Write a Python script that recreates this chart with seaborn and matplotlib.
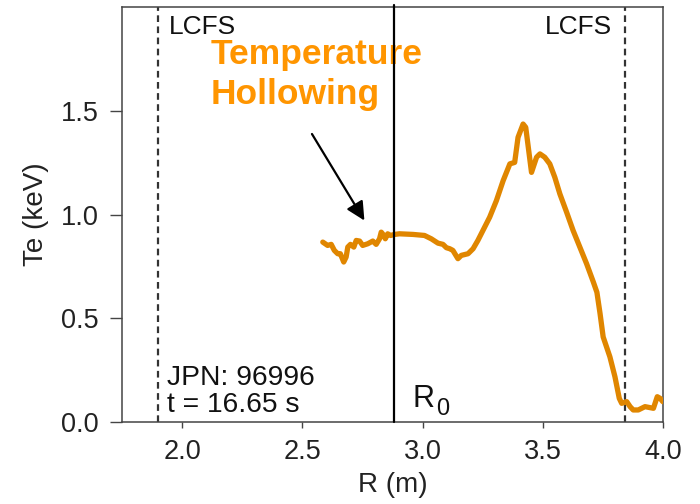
import matplotlib
matplotlib.use("Agg")
import matplotlib.pyplot as plt
import numpy as np
import pandas as pd
import seaborn as sns

# Electron temperature profile, JPN 96996 at t = 16.65 s
R_m = [2.585, 2.605, 2.620, 2.633, 2.647, 2.658, 2.672, 2.682, 2.689, 2.700,
       2.714, 2.724, 2.738, 2.751, 2.772, 2.793, 2.807, 2.821, 2.828, 2.839,
       2.845, 2.855, 2.867, 2.883, 2.904, 2.960, 3.008, 3.036, 3.064, 3.085,
       3.099, 3.113, 3.126, 3.147, 3.161, 3.189, 3.210, 3.230, 3.251, 3.272,
       3.279, 3.307, 3.335, 3.363, 3.383, 3.397, 3.418, 3.429, 3.453, 3.474,
       3.488, 3.508, 3.529, 3.550, 3.571, 3.599, 3.626, 3.654, 3.682, 3.710,
       3.725, 3.738, 3.751, 3.779, 3.800, 3.818, 3.828, 3.849, 3.863, 3.876,
       3.897, 3.925, 3.960, 3.976, 3.988, 3.999]
Te_keV = [0.867, 0.851, 0.856, 0.827, 0.811, 0.811, 0.771, 0.795, 0.843, 0.856,
          0.843, 0.875, 0.872, 0.851, 0.859, 0.872, 0.856, 0.883, 0.915, 0.899,
          0.883, 0.907, 0.899, 0.904, 0.907, 0.904, 0.899, 0.883, 0.862, 0.856,
          0.840, 0.835, 0.827, 0.787, 0.803, 0.811, 0.835, 0.875, 0.923, 0.971,
          0.987, 1.067, 1.163, 1.244, 1.251, 1.372, 1.436, 1.420, 1.203, 1.276,
          1.292, 1.276, 1.244, 1.179, 1.099, 1.011, 0.923, 0.843, 0.763, 0.675,
          0.625, 0.523, 0.410, 0.314, 0.218, 0.114, 0.090, 0.098, 0.074, 0.058,
          0.058, 0.074, 0.066, 0.122, 0.114, 0.098]

lcfs_R = [1.90, 3.84]
R0 = 2.883
x_ticks = [2.0, 2.5, 3.0, 3.5, 4.0]
y_ticks = [0.0, 0.5, 1.0, 1.5]

sns.set_theme(style="ticks")
plt.rcParams["font.family"] = ["Liberation Sans", "DejaVu Sans"]

df = pd.DataFrame({"R": R_m, "Te": Te_keV})

fig = plt.figure(figsize=(7.0, 5.04), dpi=100)
ax = fig.add_axes([0.1743, 0.1627, 0.7729, 0.8234])

sns.lineplot(data=df, x="R", y="Te", ax=ax, sort=False, estimator=None,
             color="#E08600", lw=3.8, solid_joinstyle="round",
             solid_capstyle="round", zorder=3)

for r in lcfs_R:
    ax.axvline(r, color="#333333", lw=1.6, ls=(0, (3.0, 2.0)), zorder=2)
ax.axvline(R0, color="black", lw=1.6, ymax=1.006, clip_on=False, zorder=4)

ax.set_xlim(1.75, 4.0)
ax.set_ylim(0.0, 2.0)
ax.set_xticks(x_ticks)
ax.set_yticks(y_ticks)
ax.set_xticklabels([f"{v:.1f}" for v in x_ticks])
ax.set_yticklabels([f"{v:.1f}" for v in y_ticks])

for s in ax.spines.values():
    s.set_visible(True)
    s.set_color("#444444")
    s.set_linewidth(1.1)

ax.tick_params(axis="x", length=4, width=1.0, color="#444444", pad=8,
               labelsize=19.5, labelcolor="#222222")
ax.tick_params(axis="y", length=8.5, width=1.0, color="#444444", pad=8,
               labelsize=19.5, labelcolor="#222222")

ax.set_xlabel("R (m)", fontsize=20, color="#222222", labelpad=5)
ax.set_ylabel("Te (keV)", fontsize=20, color="#222222", labelpad=9)

# Labels and annotations
ax.text(1.946, 1.96, "LCFS", fontsize=19, color="#111111", va="top", ha="left")
ax.text(3.508, 1.96, "LCFS", fontsize=19, color="#111111", va="top", ha="left")

orange_txt = "#FF9500"
ax.text(2.120, 1.726, "Temperature", fontsize=25.5, fontweight="bold",
        color=orange_txt, va="baseline", ha="left", zorder=1)
ax.text(2.120, 1.534, "Hollowing", fontsize=25.5, fontweight="bold",
        color=orange_txt, va="baseline", ha="left", zorder=1)

ax.annotate("", xy=(2.758, 0.971), xytext=(2.540, 1.388),
            arrowprops=dict(arrowstyle="-|>", color="black", lw=1.6,
                            mutation_scale=28, shrinkA=0, shrinkB=0))

ax.text(1.9375, 0.178, "JPN: 96996", fontsize=20.3, color="#111111",
        va="baseline", ha="left")
ax.text(1.9375, 0.050, "t = 16.65 s", fontsize=20.3, color="#111111",
        va="baseline", ha="left")

# R with a subscript zero
ax.text(2.958, 0.074, "R", fontsize=22, color="#111111",
        va="baseline", ha="left")
ax.text(3.057, 0.034, "0", fontsize=17, color="#111111",
        va="baseline", ha="left")

fig.savefig("out.png", dpi=100, facecolor="white")
